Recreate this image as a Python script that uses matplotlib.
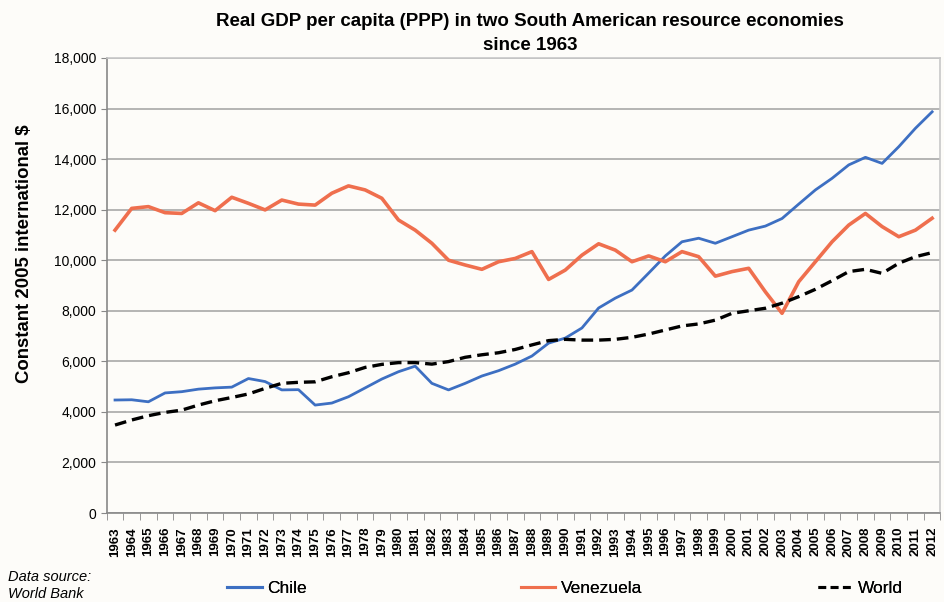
import numpy as np
import matplotlib.pyplot as plt
from matplotlib.ticker import FuncFormatter, MultipleLocator
from matplotlib.lines import Line2D

plt.rcParams['font.family'] = ['Liberation Sans', 'DejaVu Sans']

years = list(range(1963, 2013))

chile = [4470, 4480, 4400, 4750, 4800, 4900, 4950, 4980, 5320, 5200,
         4870, 4880, 4270, 4350, 4600, 4950, 5300, 5590, 5810, 5130,
         4870, 5130, 5420, 5630, 5890, 6210, 6720, 6920, 7320, 8110,
         8500, 8820, 9490, 10170, 10730, 10870, 10670, 10930, 11190, 11350,
         11650, 12220, 12780, 13240, 13770, 14070, 13830, 14490, 15220, 15870]

venezuela = [11190, 12050, 12120, 11880, 11850, 12270, 11960, 12490, 12250, 11990,
             12380, 12220, 12180, 12650, 12940, 12780, 12450, 11590, 11190, 10670,
             10000, 9810, 9640, 9940, 10070, 10340, 9240, 9610, 10200, 10650,
             10400, 9940, 10170, 9940, 10340, 10140, 9370, 9550, 9680, 8750,
             7900, 9150, 9940, 10730, 11390, 11850, 11330, 10930, 11190, 11660]

world = [3480, 3680, 3850, 3980, 4070, 4270, 4440, 4570, 4710, 4930,
         5130, 5170, 5190, 5390, 5550, 5760, 5880, 5950, 5950, 5890,
         5990, 6160, 6260, 6340, 6470, 6650, 6820, 6870, 6840, 6840,
         6870, 6950, 7080, 7240, 7400, 7480, 7630, 7900, 8000, 8100,
         8300, 8560, 8850, 9190, 9550, 9640, 9480, 9880, 10140, 10300]

bg = '#fdfcf9'
c_chile = '#3d6fc2'
c_ven = '#ef6f4e'

fig = plt.figure(figsize=(9.45, 6.02), dpi=100, facecolor=bg)
ax = fig.add_axes([0.1129, 0.1478, 0.8823, 0.7559], facecolor=bg)

x = np.arange(len(years))
ax.plot(x, chile, color=c_chile, lw=2.0, label='Chile')
ax.plot(x, venezuela, color=c_ven, lw=2.6, label='Venezuela')
ax.plot(x, world, color='black', lw=2.4, ls=(0, (3.5, 1.8)), label='World')

ax.set_xlim(-0.5, len(years) - 0.5)
ax.set_ylim(0, 18000)
ax.yaxis.set_major_locator(MultipleLocator(2000))
ax.yaxis.set_major_formatter(FuncFormatter(lambda v, p: f'{int(v):,}'))
ax.grid(axis='y', color='#a8a8a8', lw=1.2)
ax.set_axisbelow(True)

ax.set_xticks(x)
ax.set_xticklabels([str(y) for y in years], rotation=90, fontsize=9.5, fontweight='bold')
ax.set_xticks(np.arange(-0.5, len(years), 1), minor=True)
ax.tick_params(axis='x', which='major', length=0, pad=10)
ax.tick_params(axis='x', which='minor', length=5, color='#888888', direction='out')
ax.tick_params(axis='y', length=4, color='#888888', labelsize=10)

for s in ['left', 'bottom']:
    ax.spines[s].set_color('#888888')
    ax.spines[s].set_linewidth(1.2)
for s in ['top', 'right']:
    ax.spines[s].set_color('#c8c8c8')
    ax.spines[s].set_linewidth(1.2)

# label sits a bit above the axes middle in the original
ax.set_ylabel('Constant 2005 international $', fontsize=13.4, fontweight='bold')
ax.yaxis.set_label_coords(-0.088, 0.571)

fig.text(0.561, 0.965, 'Real GDP per capita (PPP) in two South American resource economies',
         ha='center', va='center', fontsize=13.5, fontweight='bold')
fig.text(0.561, 0.924, 'since 1963', ha='center', va='center', fontsize=13.5, fontweight='bold')

fig.text(0.008, 0.041, 'Data source:', fontsize=10.5, style='italic', va='center')
fig.text(0.008, 0.014, 'World Bank', fontsize=10.5, style='italic', va='center')

entries = [('Chile', c_chile, '-', 0.240), ('Venezuela', c_ven, '-', 0.551), ('World', 'black', '--', 0.866)]
for name, col, ls, xpos in entries:
    h = Line2D([], [], color=col, lw=2.2, ls=ls if ls == '-' else (0, (2.5, 1.5)))
    lg = fig.legend([h], [name], loc='center left', bbox_to_anchor=(xpos, 0.022),
                    frameon=False, fontsize=12.5, handlelength=2.0, handletextpad=0.3,
                    borderaxespad=0, borderpad=0)
    fig.add_artist(lg)

fig.savefig('out.png', dpi=100, facecolor=bg)
